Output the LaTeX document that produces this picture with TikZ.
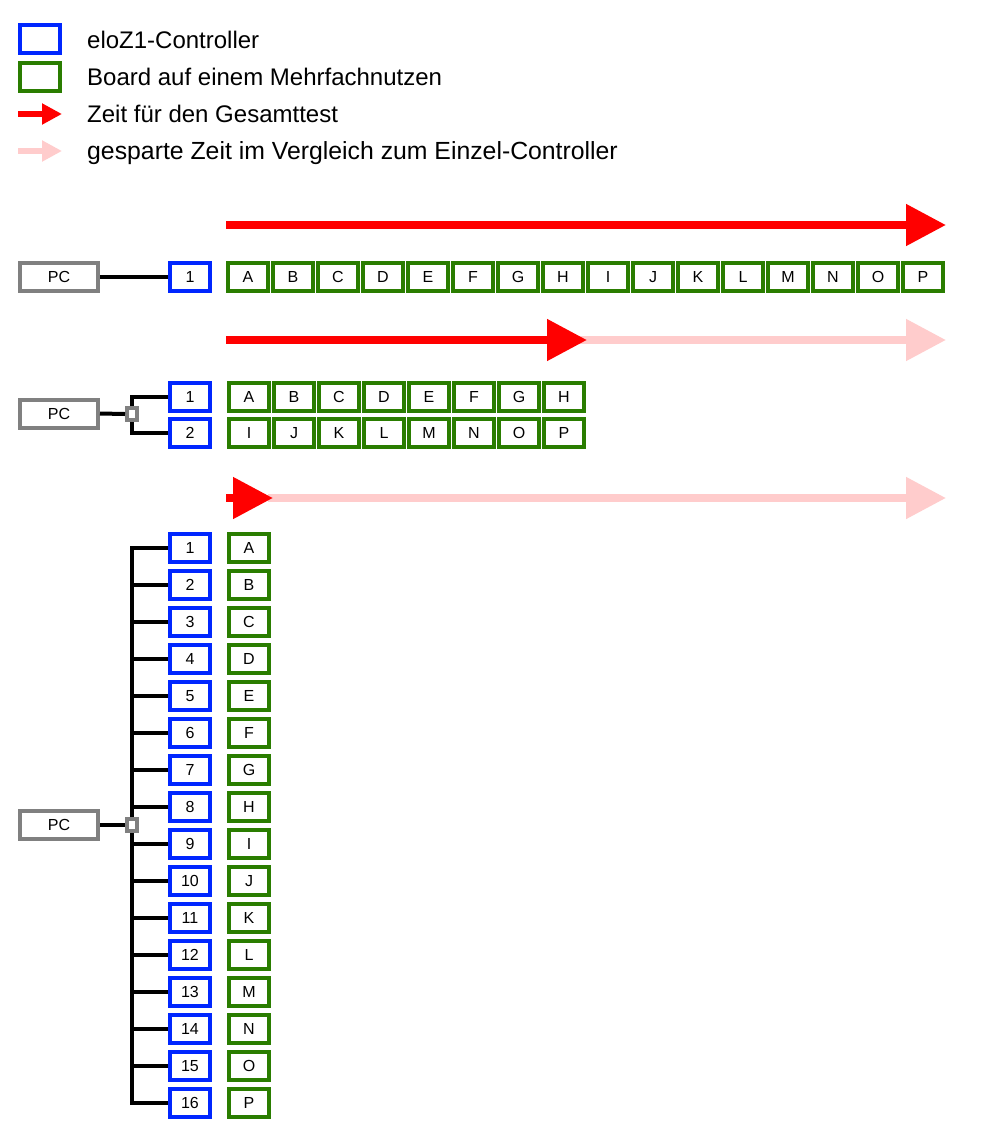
\documentclass[tikz,border=0pt]{standalone}
\usepackage{fontspec}
\setmainfont{Liberation Sans}
\usetikzlibrary{arrows.meta}
\definecolor{ctrlblue}{RGB}{0,38,255}
\definecolor{boardgreen}{RGB}{42,125,0}
\definecolor{pcgray}{RGB}{128,128,128}
\definecolor{saved}{RGB}{255,204,204}
\tikzset{
  box/.style={rectangle, minimum width=40pt, minimum height=28pt, line width=4pt, inner sep=0pt, fill=white,
    font=\fontsize{16}{19}\selectfont, text height=11.5pt, text depth=0pt},
  ctrl/.style={box, draw=ctrlblue},
  board/.style={box, draw=boardgreen},
  pcbox/.style={box, draw=pcgray, minimum width=78pt},
  junction/.style={rectangle, draw=pcgray, fill=white, line width=4pt, minimum width=10pt, minimum height=12pt, inner sep=0pt},
  wire/.style={line width=4pt, black},
  totalarrow/.style={line width=8pt, red, -{Triangle[length=40pt,width=40pt]}},
  savedarrow/.style={line width=8pt, saved, -{Triangle[length=40pt,width=40pt]}},
  legendtext/.style={anchor=base west, inner sep=0pt, font=\fontsize{24}{28}\selectfont},
}
\begin{document}
\begin{tikzpicture}[x=1pt,y=-1pt]
\useasboundingbox[fill=white] (0,0) rectangle (1000,1130);
% legend
\node[ctrl] (lgc) at (40,39) {};
\node[board] (lgb) at (40,77) {};
\coordinate (lgrs) at (18,114); \coordinate (lgre) at (62,114);
\coordinate (lgps) at (18,151); \coordinate (lgpe) at (62,151);
\draw[line width=6pt, red, -{Triangle[length=20pt,width=20pt]}] (lgrs) -- (lgre);
\draw[line width=6pt, saved, -{Triangle[length=20pt,width=20pt]}] (lgps) -- (lgpe);
\node[legendtext] (t1) at (87,48.5) {eloZ1-Controller};
\node[legendtext] (t2) at (87,85.5) {Board auf einem Mehrfachnutzen};
\node[legendtext] (t3) at (87,122.5) {Zeit für den Gesamttest};
\node[legendtext, font=\fontsize{24.8}{28}\selectfont] (t4) at (87,159.5) {gesparte Zeit im Vergleich zum Einzel-Controller};

% row 1
\coordinate (a1s) at (226,225); \coordinate (a1e) at (946,225);
\draw[totalarrow] (a1s) -- (a1e);
\node[pcbox] (pc1) at (59,277) {PC};
\node[ctrl] (r1c1) at (190,277) {1};
\draw[wire] (pc1.east) -- (r1c1.west);
\foreach \l [count=\i from 0] in {A,B,C,D,E,F,G,H,I,J,K,L,M,N,O,P}
  \node[board] (r1\l) at (248+45*\i,277) {\l};

% row 2
\coordinate (a2s) at (226,340); \coordinate (a2m) at (580,340); \coordinate (a2e) at (946,340);
\coordinate (a2r) at (587,340);
\draw[savedarrow] (a2m) -- (a2e);
\draw[totalarrow] (a2s) -- (a2r);
\node[pcbox] (pc2) at (59,413.5) {PC};
\node[ctrl] (r2c1) at (190,396.5) {1};
\node[ctrl] (r2c2) at (190,433) {2};
\node[junction] (j2) at (132,414) {};
\draw[wire] (pc2.east) -- (j2.west);
\draw[wire] (j2.north) |- (r2c1.west);
\draw[wire] (j2.south) |- (r2c2.west);
\foreach \l [count=\i from 0] in {A,B,C,D,E,F,G,H}
  \node[board] (r2\l) at (249+45*\i,396.5) {\l};
\foreach \l [count=\i from 0] in {I,J,K,L,M,N,O,P}
  \node[board] (r2\l) at (249+45*\i,433) {\l};

% row 3
\coordinate (a3s) at (226,498); \coordinate (a3m) at (268,498); \coordinate (a3e) at (946,498);
\coordinate (a3r) at (273,498);
\draw[savedarrow] (a3m) -- (a3e);
\draw[totalarrow] (a3s) -- (a3r);
\node[pcbox] (pc3) at (59,825) {PC};
\node[junction] (j3) at (132,825) {};
\foreach \l [count=\i from 1] in {A,B,C,D,E,F,G,H,I,J,K,L,M,N,O,P}{
  \node[ctrl] (r3c\i) at (190,548+37*\i-37) {\i};
  \node[board] (r3\l) at (249,548+37*\i-37) {\l};
}
\draw[wire] (pc3.east) -- (j3.west);
\draw[wire] (j3.north) |- (r3c1.west);
\draw[wire] (j3.south) |- (r3c16.west);
\foreach \i in {2,...,15}
  \draw[wire] (r3c\i.west) -- (r3c\i.west -| j3);
\end{tikzpicture}
\end{document}
